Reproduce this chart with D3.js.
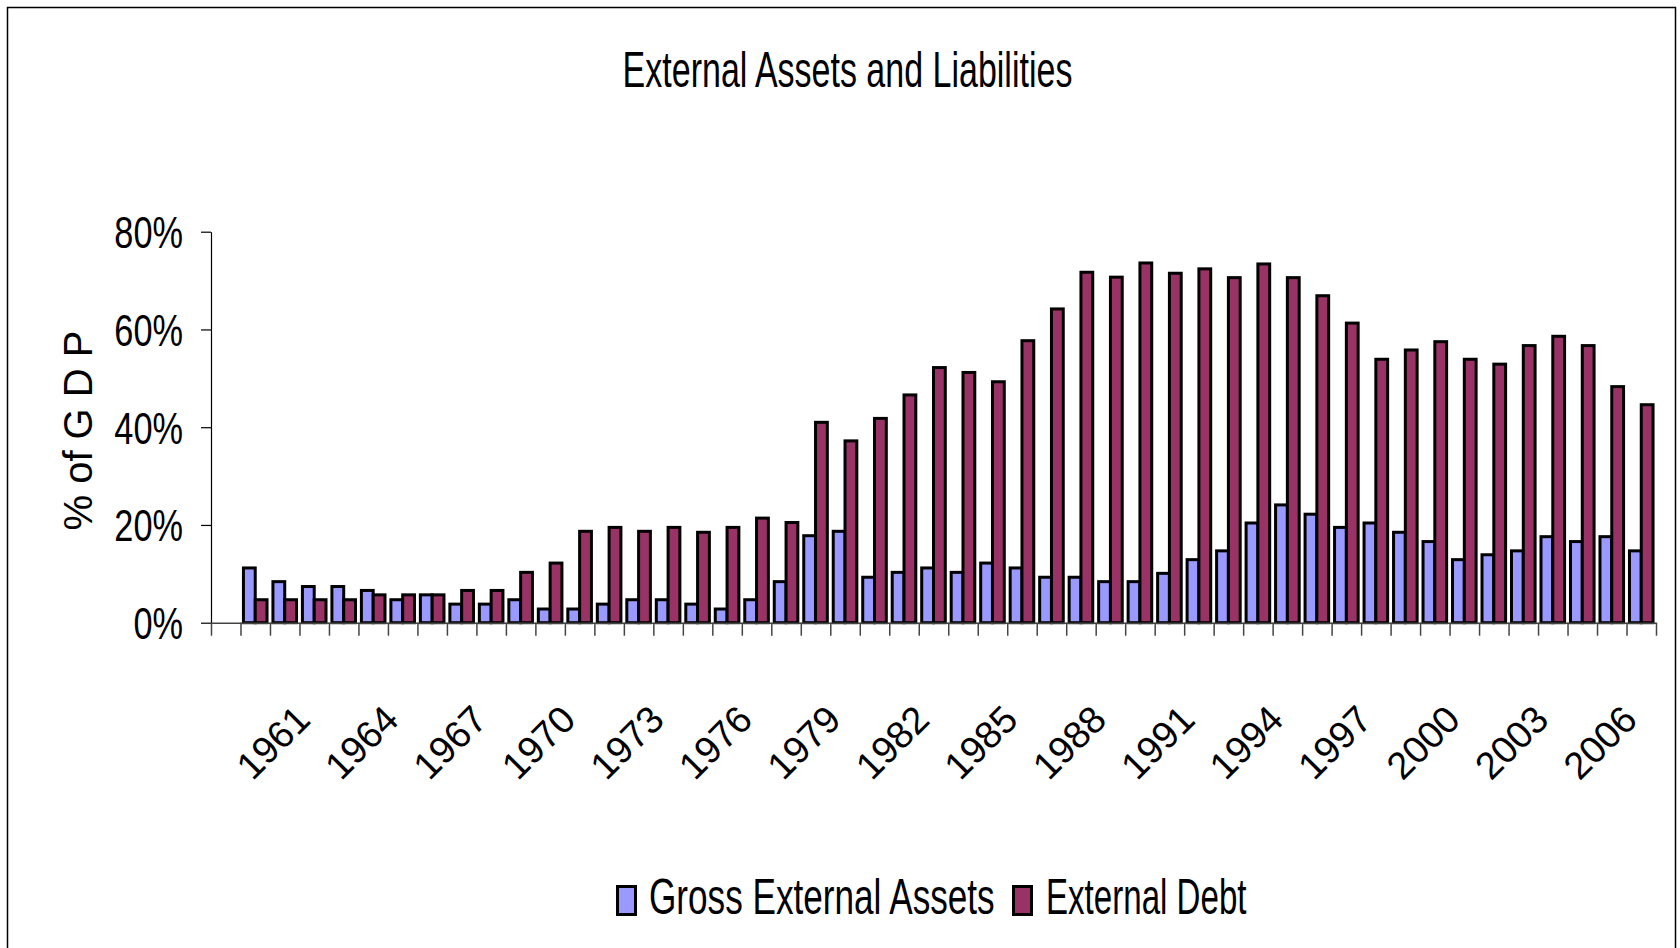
<!DOCTYPE html>
<html>
<head>
<meta charset="utf-8">
<script src="https://cdn.jsdelivr.net/npm/d3@7/dist/d3.min.js"></script>
<style>
  html, body { margin: 0; padding: 0; background: #fff; }
  svg { display: block; }
  text { font-family: "Liberation Sans", Arial, sans-serif; fill: #000; }
</style>
</head>
<body>
<svg id="chart" width="1680" height="948"></svg>
<script>
// Categories: a leading blank slot, then one per year
const categories = ["", "1959", "1960", "1961", "1962", "1963", "1964", "1965", "1966", "1967",
  "1968", "1969", "1970", "1971", "1972", "1973", "1974", "1975", "1976", "1977",
  "1978", "1979", "1980", "1981", "1982", "1983", "1984", "1985", "1986", "1987",
  "1988", "1989", "1990", "1991", "1992", "1993", "1994", "1995", "1996", "1997",
  "1998", "1999", "2000", "2001", "2002", "2003", "2004", "2005", "2006"];

// Gross external assets, % of GDP
const grossExternalAssets = [null, 11.2, 8.4, 7.4, 7.4, 6.6, 4.7, 5.7, 3.8, 3.8,
  4.7, 2.8, 2.8, 3.8, 4.7, 4.7, 3.8, 2.8, 4.7, 8.4,
  17.8, 18.7, 9.3, 10.3, 11.2, 10.3, 12.2, 11.2, 9.3, 9.3,
  8.4, 8.4, 10.1, 12.9, 14.7, 20.4, 24.1, 22.2, 19.5, 20.4,
  18.5, 16.6, 12.9, 13.9, 14.7, 17.6, 16.6, 17.6, 14.7];

// External debt, % of GDP
const externalDebt = [null, 4.7, 4.7, 4.7, 4.7, 5.7, 5.7, 5.7, 6.6, 6.6,
  10.3, 12.2, 18.7, 19.5, 18.7, 19.5, 18.5, 19.5, 21.4, 20.5,
  41.0, 37.2, 41.8, 46.6, 52.2, 51.2, 49.3, 57.7, 64.2, 71.7,
  70.7, 73.6, 71.5, 72.4, 70.6, 73.4, 70.6, 66.9, 61.3, 53.9,
  55.8, 57.5, 53.9, 52.9, 56.7, 58.6, 56.7, 48.3, 44.6];

const seriesNames = ["Gross External Assets", "External Debt"];
const seriesColors = ["#9999FF", "#993366"];
const yTicks = [0, 20, 40, 60, 80];
const xTickLabels = ["1961", "1964", "1967", "1970", "1973", "1976", "1979", "1982",
  "1985", "1988", "1991", "1994", "1997", "2000", "2003", "2006"];

const svg = d3.select("#chart");

// Outer chart frame
svg.append("rect")
  .attr("x", 7.5).attr("y", 7.5)
  .attr("width", 1668).attr("height", 960)
  .attr("fill", "none").attr("stroke", "#000").attr("stroke-width", 1.5);

// Plot area
const plot = { left: 211, right: 1656, top: 231.7, bottom: 622.7 };

const x = d3.scaleBand()
  .domain(categories)
  .range([plot.left, plot.right])
  .paddingInner(0).paddingOuter(0);

const xSub = d3.scaleBand()
  .domain(seriesNames)
  .range([0, x.bandwidth()])
  .paddingInner(0).paddingOuter(0.25);

const y = d3.scaleLinear().domain([0, 80]).range([plot.bottom, plot.top]);

// Tick marks between categories
const xEdge = d3.scaleLinear().domain([0, categories.length]).range([plot.left, plot.right]);

// Bars
const rows = categories.map((c, i) => ({
  cat: c,
  values: [grossExternalAssets[i], externalDebt[i]]
}));

const groups = svg.append("g").selectAll("g")
  .data(rows)
  .join("g")
  .attr("transform", d => `translate(${x(d.cat)},0)`);

groups.selectAll("rect")
  .data(d => d.values.map((v, j) => ({ v, j })).filter(e => e.v != null))
  .join("rect")
  .attr("x", e => xSub(seriesNames[e.j]))
  .attr("width", xSub.bandwidth())
  .attr("y", e => y(e.v))
  .attr("height", e => y(0) - y(e.v))
  .attr("fill", e => seriesColors[e.j])
  .attr("stroke", "#000")
  .attr("stroke-width", 3);

// Y axis
const yAxis = svg.append("g")
  .attr("transform", `translate(${plot.left},0)`)
  .call(d3.axisLeft(y).tickValues(yTicks).tickSize(10).tickSizeOuter(0)
    .tickFormat(d => d + "%"));
yAxis.select(".domain").attr("stroke", "#000").attr("stroke-width", 1.2);
yAxis.selectAll(".tick line").attr("stroke", "#000").attr("stroke-width", 1.2);
yAxis.selectAll(".tick text")
  .attr("x", null).attr("dy", "0.36em")
  .attr("transform", "translate(-28,0) scale(0.78,1)")
  .attr("text-anchor", "end")
  .style("font-family", "'Liberation Sans', Arial, sans-serif")
  .style("font-size", "44px");

// X axis with ticks at category boundaries
const xAxis = svg.append("g")
  .attr("transform", `translate(0,${plot.bottom})`)
  .call(d3.axisBottom(xEdge).tickValues(d3.range(0, categories.length + 1))
    .tickSize(13).tickSizeOuter(0).tickFormat(""));
xAxis.select(".domain").attr("stroke", "#444").attr("stroke-width", 1.5);
xAxis.selectAll(".tick line").attr("stroke", "#444").attr("stroke-width", 1.5);

// Rotated year labels
svg.append("g").selectAll("text")
  .data(xTickLabels)
  .join("text")
  .attr("text-anchor", "end")
  .attr("transform", d => `translate(${x(d) + x.bandwidth() / 2 - 2},${plot.bottom + 99}) rotate(-45)`)
  .style("font-size", "38px")
  .text(d => d);

// Y axis title
svg.append("text")
  .attr("transform", "translate(92,430.5) rotate(-90)")
  .attr("text-anchor", "middle")
  .style("font-size", "40px")
  .text("% of G D P");

// Chart title
svg.append("text")
  .attr("transform", "translate(847.5,87) scale(0.68,1)")
  .attr("text-anchor", "middle")
  .style("font-size", "50px")
  .text("External Assets and Liabilities");

// Legend
const legendItems = [
  { name: seriesNames[0], color: seriesColors[0], box: 617.5, label: 649, sx: 0.703 },
  { name: seriesNames[1], color: seriesColors[1], box: 1013.5, label: 1046, sx: 0.662 }
];
const legend = svg.append("g");
legend.selectAll("rect")
  .data(legendItems)
  .join("rect")
  .attr("x", d => d.box).attr("y", 886.5)
  .attr("width", 18).attr("height", 28)
  .attr("fill", d => d.color)
  .attr("stroke", "#000").attr("stroke-width", 3);
legend.selectAll("text")
  .data(legendItems)
  .join("text")
  .attr("transform", d => `translate(${d.label},914) scale(${d.sx},1)`)
  .style("font-size", "50px")
  .text(d => d.name);
</script>
</body>
</html>
